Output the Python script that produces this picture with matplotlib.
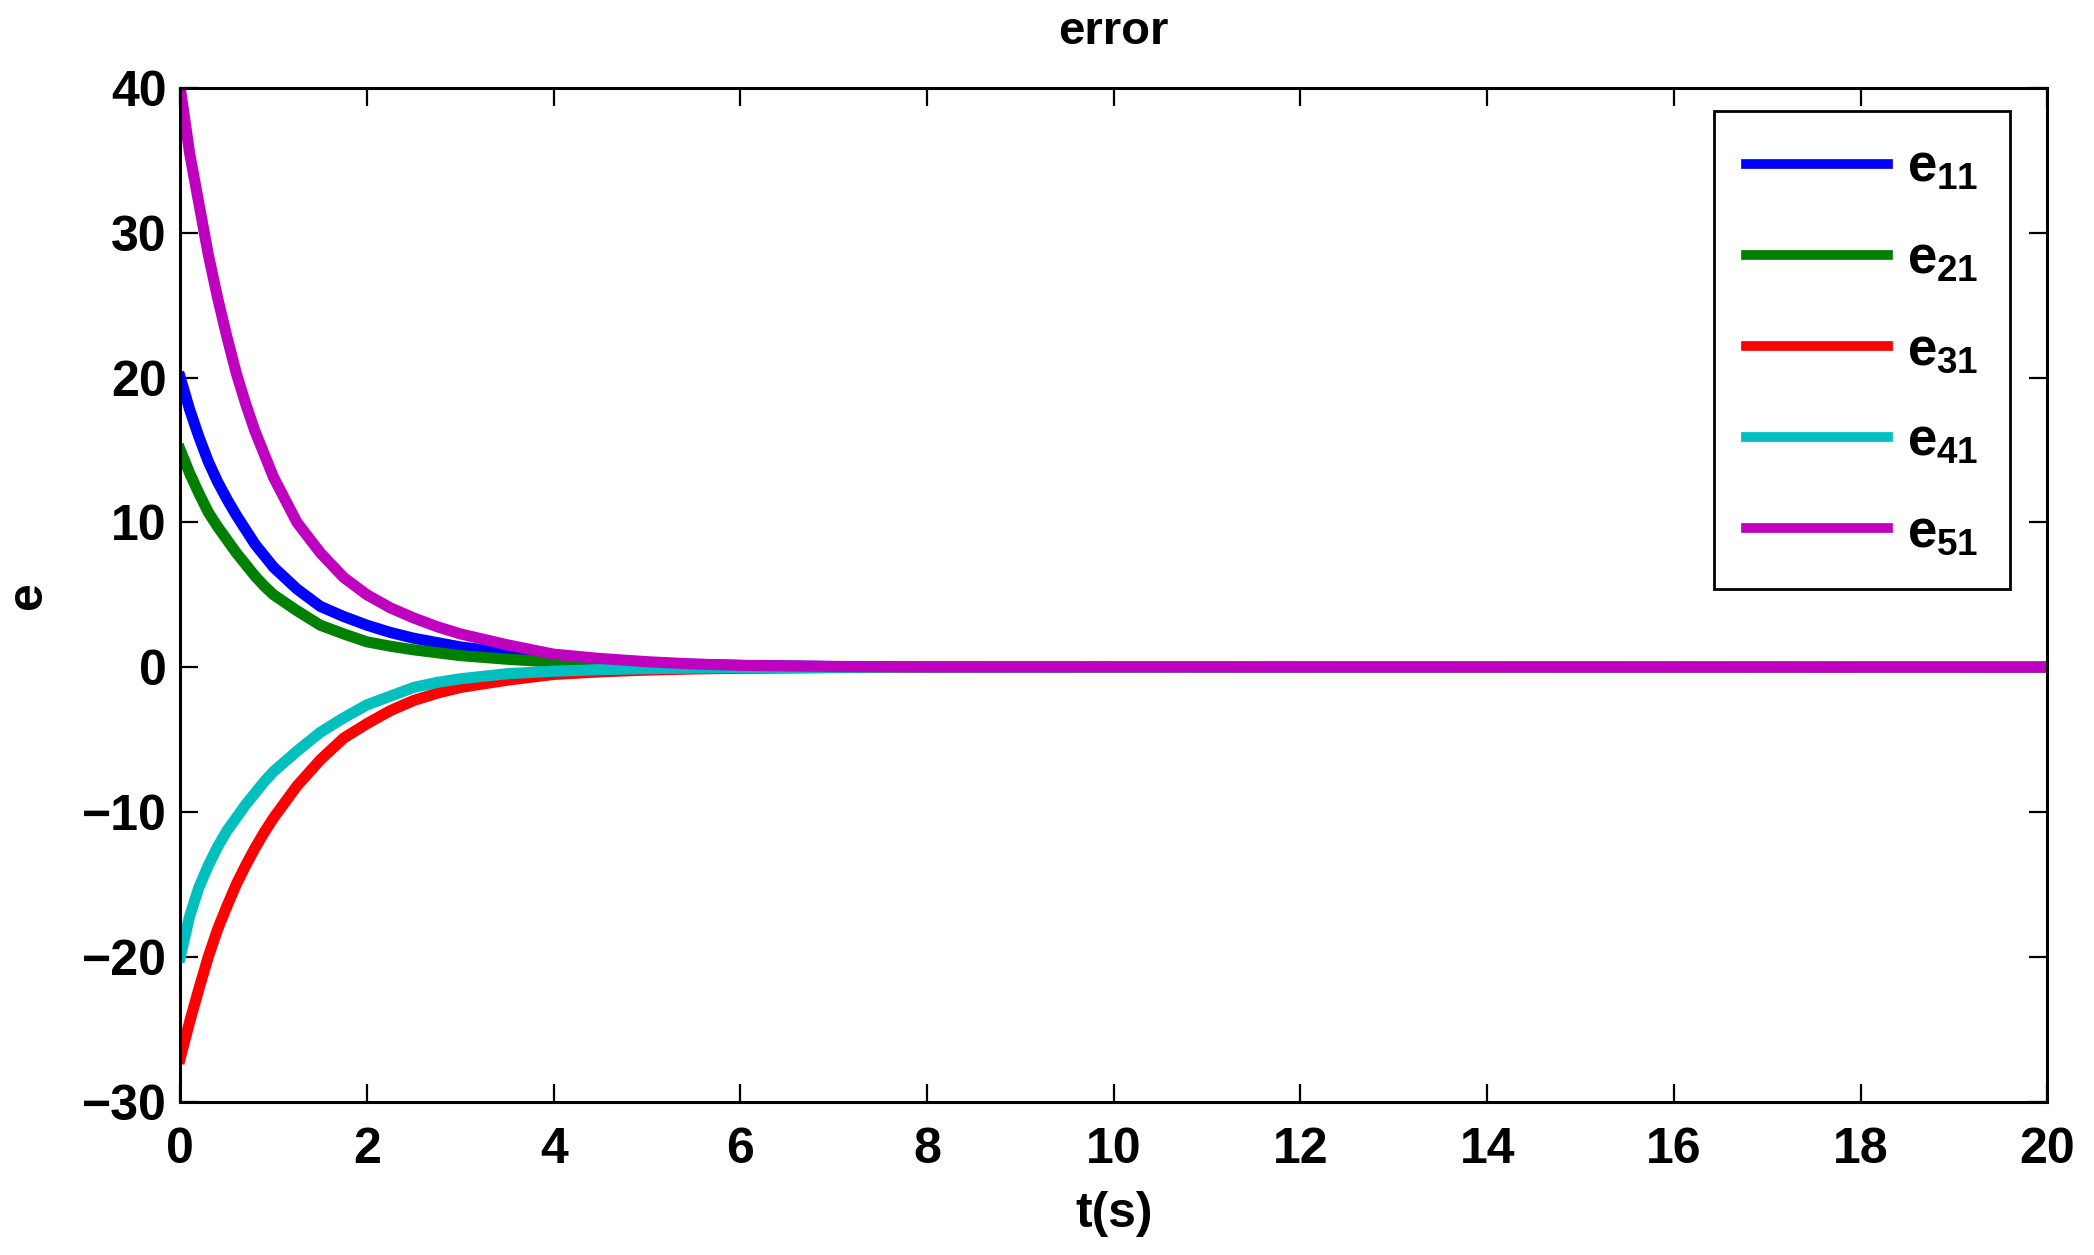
import matplotlib
matplotlib.use('Agg')
from matplotlib import pyplot as plt

plt.rcParams['font.family'] = 'Liberation Sans'
plt.rcParams['font.weight'] = 'bold'
plt.rcParams['mathtext.fontset'] = 'custom'
plt.rcParams['mathtext.rm'] = 'Liberation Sans:bold'
plt.rcParams['mathtext.it'] = 'Liberation Sans:bold'
plt.rcParams['mathtext.bf'] = 'Liberation Sans:bold'

# time samples
t = [0, 0.1, 0.2, 0.3, 0.4, 0.5, 0.6, 0.7, 0.8, 0.9, 1.0, 1.25, 1.5, 1.75,
     2.0, 2.25, 2.5, 2.75, 3.0, 3.5, 4.0, 4.5, 5.0, 5.5, 6.0, 7.0, 8.0, 20.0]

e11 = [20, 17.8, 15.9, 14.2, 12.8, 11.6, 10.5, 9.5, 8.5, 7.7, 6.9, 5.4, 4.2, 3.5,
       2.9, 2.4, 2.0, 1.7, 1.4, 1.0, 0.65, 0.45, 0.3, 0.2, 0.12, 0.05, 0.02, 0]
e21 = [15, 13.4, 12.0, 10.7, 9.7, 8.8, 7.9, 7.1, 6.3, 5.6, 5.0, 3.9, 2.9, 2.3,
       1.75, 1.45, 1.2, 1.0, 0.8, 0.55, 0.35, 0.22, 0.14, 0.09, 0.06, 0.02, 0.01, 0]
e31 = [-27, -24.5, -22.2, -20.0, -18.1, -16.5, -15.0, -13.7, -12.5, -11.4, -10.4,
       -8.2, -6.4, -4.9, -3.9, -3.0, -2.3, -1.8, -1.4, -0.9, -0.5, -0.32, -0.2,
       -0.12, -0.08, -0.03, -0.01, 0]
e41 = [-20, -17.2, -15.2, -13.7, -12.4, -11.3, -10.4, -9.5, -8.7, -7.9, -7.2,
       -5.8, -4.5, -3.5, -2.6, -2.0, -1.4, -1.05, -0.8, -0.45, -0.28, -0.17, -0.1,
       -0.06, -0.04, -0.01, 0, 0]
e51 = [40, 35.5, 32.0, 28.5, 25.5, 22.8, 20.3, 18.2, 16.3, 14.7, 13.1, 10.0, 7.9,
       6.2, 5.0, 4.1, 3.4, 2.8, 2.3, 1.55, 0.9, 0.6, 0.38, 0.22, 0.13, 0.05, 0.02, 0]

series = [e11, e21, e31, e41, e51]
labels = [r'$e_{11}$', r'$e_{21}$', r'$e_{31}$', r'$e_{41}$', r'$e_{51}$']
colors = ['#0000ff', '#008000', '#ff0000', '#00bfbf', '#bf00bf']

fig = plt.figure(figsize=(20.94, 12.55), dpi=100)
ax = fig.add_axes([0.0861, 0.1223, 0.8916, 0.8075])

for y, lab, c in zip(series, labels, colors):
    ax.plot(t, y, color=c, linewidth=8, label=lab, solid_joinstyle='round')

ax.set_xlim(0, 20)
ax.set_ylim(-30, 40)
ax.set_xticks(range(0, 21, 2))
ax.set_yticks(range(-30, 41, 10))
ax.set_yticklabels(['\u221230', '\u221220', '\u221210', '0', '10', '20', '30', '40'])
ax.tick_params(direction='in', length=13, width=1.6, labelsize=36,
               top=True, right=True)
ax.tick_params(axis='x', pad=18)
ax.tick_params(axis='y', pad=10)
for sp in ax.spines.values():
    sp.set_linewidth(2.2)

ax.set_title('error', fontsize=34, fontweight='bold', pad=32)
ax.set_xlabel('t(s)', fontsize=36, fontweight='bold', labelpad=13)
ax.set_ylabel('e', fontsize=36, fontweight='bold', labelpad=22)

leg = ax.legend(loc='upper right', bbox_to_anchor=(0.98, 0.977), fontsize=38,
                handlelength=2.7, labelspacing=0.78, borderpad=0.6,
                handletextpad=0.35, borderaxespad=0, fancybox=False,
                framealpha=1)
leg.get_frame().set_edgecolor('black')
leg.get_frame().set_linewidth(2.0)
for ln in leg.get_lines():
    ln.set_linewidth(7)

fig.savefig('out.png', dpi=100)
